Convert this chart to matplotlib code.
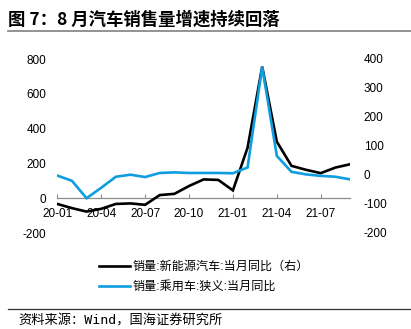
import matplotlib
matplotlib.use("Agg")

import matplotlib.pyplot as plt
from matplotlib.lines import Line2D

plt.rcParams["font.family"] = ["Liberation Sans", "Noto Sans CJK SC", "DejaVu Sans"]
plt.rcParams["axes.unicode_minus"] = False

# 月度数据：2020-01 ~ 2021-09
months = ["20-01", "20-02", "20-03", "20-04", "20-05", "20-06", "20-07",
          "20-08", "20-09", "20-10", "20-11", "20-12", "21-01", "21-02",
          "21-03", "21-04", "21-05", "21-06", "21-07", "21-08", "21-09"]
nev_yoy = [-33, -57, -77, -61, -33, -30, -38, 18, 25, 70, 108, 105, 45,
           290, 756, 325, 186, 163, 144, 176, 195]
pv_yoy = [-2, -20, -80, -44, -6, 1, -7, 7, 9, 7, 7, 7, 6, 26, 373, 66,
          11, 2, -3, -6, -15]
label_nev = "销量:新能源汽车:当月同比（右）"
label_pv = "销量:乘用车:狭义:当月同比"

BLUE = "#0e9ddf"
GRID_GREY = "#8c8c8c"

W, H = 411, 329
fig = plt.figure(figsize=(W / 100, H / 100), dpi=100)
fig.patch.set_facecolor("white")


def fx(px):
    return px / W


def fy(py):
    return 1 - py / H


# 标题和分隔线
fig.text(fx(8), fy(19.5), "图 7：8 月汽车销售量增速持续回落", fontsize=12.5,
         fontweight="bold", family=["Noto Sans CJK SC"], va="center", ha="left")
fig.add_artist(Line2D([fx(8), 1], [fy(30.7), fy(30.7)], color="#8a8a8a", lw=1.3))
fig.add_artist(Line2D([fx(8), 1], [fy(308.5), fy(308.5)], color="#333333", lw=0.9))
fig.text(fx(18), fy(321), "资料来源：Wind，国海证券研究所", fontsize=9.5,
         family=["DejaVu Sans Mono", "Noto Sans CJK SC"], va="center", ha="left")

# 主图
ax = fig.add_axes([fx(57.3), fy(233), fx(350) - fx(57.3), fy(59) - fy(233)])
x = list(range(len(months)))
line_nev, = ax.plot(x, nev_yoy, color="black", lw=1.9, label=label_nev,
                    solid_joinstyle="miter", zorder=5)
ax.set_xlim(0, len(months) - 1)
ax.set_ylim(-200, 800)
ax.set_yticks(range(-200, 801, 200))

ax2 = ax.twinx()
line_pv, = ax2.plot(x, pv_yoy, color=BLUE, lw=1.9, label=label_pv,
                    solid_joinstyle="miter", zorder=5)
ax2.set_ylim(-200, 400)
ax2.set_yticks(range(-200, 401, 100))

for a in (ax, ax2):
    for s in a.spines.values():
        s.set_visible(False)
    a.patch.set_visible(False)

ax.spines["bottom"].set_visible(True)
ax.spines["bottom"].set_position(("data", 0))
ax.spines["bottom"].set_color(GRID_GREY)
ax.spines["bottom"].set_linewidth(0.9)
ax.set_xticks(x[::3])
ax.set_xticklabels(months[::3])
ax.tick_params(axis="x", direction="in", length=3, width=0.8, color=GRID_GREY,
               labelsize=8.5, pad=7)
ax.tick_params(axis="y", length=0, labelsize=8.5, pad=8)
ax2.tick_params(axis="y", length=0, labelsize=8.5, pad=10)
ax2.tick_params(axis="x", length=0)

# 图例
leg = fig.legend(handles=[line_nev, line_pv], loc="upper left",
                 bbox_to_anchor=(fx(99), fy(261)), frameon=False,
                 handlelength=2.6, handletextpad=0.15,
                 labelspacing=0.65, borderpad=0, borderaxespad=0,
                 prop={"family": ["Liberation Sans", "Noto Sans CJK SC"], "size": 8.7})

fig.savefig("out.png", dpi=100, facecolor="white")
